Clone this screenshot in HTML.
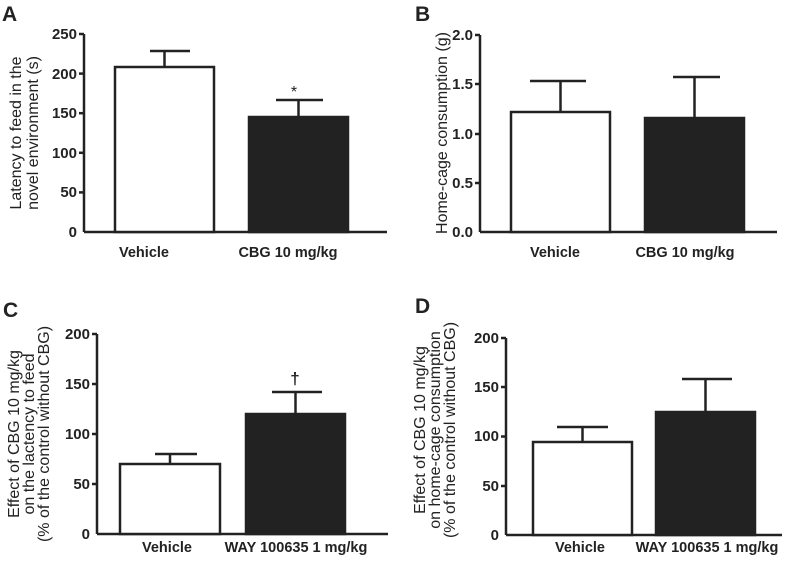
<!DOCTYPE html>
<html><head><meta charset="utf-8"><style>
body{margin:0;background:#fff}
svg{display:block}
text{font-family:"Liberation Sans",Arial,sans-serif;fill:#222}
.t{font-size:15px;font-weight:bold;text-anchor:end}
.x{font-size:14.5px;font-weight:bold;text-anchor:middle}
.y{font-size:16px;text-anchor:middle}
.L{font-size:21px;font-weight:bold}
line,rect{stroke:#222;stroke-width:2.5}
</style></head><body>
<svg width="789" height="562" viewBox="0 0 789 562">
<!-- A -->
<text class="L" x="2" y="21">A</text>
<g transform="translate(21,133) rotate(-90)"><text class="y" x="0" y="0">Latency to feed in the</text><text class="y" x="0" y="17">novel environment (s)</text></g>
<line x1="84" y1="34" x2="84" y2="232"/><line x1="84" y1="232" x2="387" y2="232"/>
<g>
<line x1="79" y1="34" x2="84" y2="34"/><line x1="79" y1="73.6" x2="84" y2="73.6"/><line x1="79" y1="113.2" x2="84" y2="113.2"/><line x1="79" y1="152.8" x2="84" y2="152.8"/><line x1="79" y1="192.4" x2="84" y2="192.4"/>
<text class="t" x="77" y="39">250</text><text class="t" x="77" y="79">200</text><text class="t" x="77" y="118">150</text><text class="t" x="77" y="158">100</text><text class="t" x="77" y="197">50</text><text class="t" x="77" y="237">0</text>
</g>
<line x1="164.5" y1="51" x2="164.5" y2="67"/><line x1="150" y1="51" x2="190" y2="51"/>
<rect x="115" y="67" width="99" height="165" fill="#fff"/>
<line x1="298.5" y1="100" x2="298.5" y2="117"/><line x1="276" y1="100" x2="323" y2="100"/>
<rect x="249" y="117" width="99" height="115" fill="#222"/>
<text x="294" y="97" style="font-size:16px;text-anchor:middle">*</text>
<text class="x" x="144" y="257">Vehicle</text><text class="x" x="288" y="257">CBG 10 mg/kg</text>
<!-- B -->
<text class="L" x="415" y="21">B</text>
<g transform="translate(447,133) rotate(-90)"><text class="y" x="0" y="0">Home-cage consumption (g)</text></g>
<line x1="480" y1="35" x2="480" y2="232"/><line x1="480" y1="232" x2="777" y2="232"/>
<line x1="475" y1="35" x2="480" y2="35"/><line x1="475" y1="84" x2="480" y2="84"/><line x1="475" y1="134" x2="480" y2="134"/><line x1="475" y1="183" x2="480" y2="183"/>
<text class="t" x="473" y="40">2.0</text><text class="t" x="473" y="89">1.5</text><text class="t" x="473" y="139">1.0</text><text class="t" x="473" y="188">0.5</text><text class="t" x="473" y="237">0.0</text>
<line x1="560.5" y1="81" x2="560.5" y2="112"/><line x1="530" y1="81" x2="586" y2="81"/>
<rect x="511" y="112" width="99" height="120" fill="#fff"/>
<line x1="694.5" y1="77" x2="694.5" y2="118"/><line x1="673" y1="77" x2="720" y2="77"/>
<rect x="645" y="118" width="99" height="114" fill="#222"/>
<text class="x" x="555" y="257">Vehicle</text><text class="x" x="685" y="257">CBG 10 mg/kg</text>
<!-- C -->
<text class="L" x="3" y="317">C</text>
<g transform="translate(19,434) rotate(-90)"><text class="y" x="0" y="0">Effect of CBG 10 mg/kg</text><text class="y" x="0" y="15">on the lactency to feed</text><text class="y" x="0" y="30">(% of  the control  without CBG)</text></g>
<line x1="97" y1="334" x2="97" y2="534"/><line x1="97" y1="534" x2="388" y2="534"/>
<line x1="92" y1="334" x2="97" y2="334"/><line x1="92" y1="384" x2="97" y2="384"/><line x1="92" y1="434" x2="97" y2="434"/><line x1="92" y1="484" x2="97" y2="484"/>
<text class="t" x="90" y="339">200</text><text class="t" x="90" y="389">150</text><text class="t" x="90" y="439">100</text><text class="t" x="90" y="489">50</text><text class="t" x="90" y="539">0</text>
<line x1="170" y1="454" x2="170" y2="464"/><line x1="155" y1="454" x2="197" y2="454"/>
<rect x="120" y="464" width="100" height="70" fill="#fff"/>
<line x1="295.5" y1="392" x2="295.5" y2="414"/><line x1="272" y1="392" x2="322" y2="392"/>
<rect x="246" y="414" width="99" height="120" fill="#222"/>
<text x="295" y="384" style="font-size:17px;font-weight:bold;text-anchor:middle">†</text>
<text class="x" x="167" y="552">Vehicle</text><text class="x" x="296" y="552">WAY 100635 1 mg/kg</text>
<!-- D -->
<text class="L" x="415" y="313">D</text>
<g transform="translate(425,430) rotate(-90)"><text class="y" x="0" y="0">Effect of CBG 10 mg/kg</text><text class="y" x="0" y="15">on home-cage consumption</text><text class="y" x="0" y="30">(% of the control without CBG)</text></g>
<line x1="506" y1="338" x2="506" y2="535"/><line x1="506" y1="535" x2="782" y2="535"/>
<line x1="501" y1="338" x2="506" y2="338"/><line x1="501" y1="387" x2="506" y2="387"/><line x1="501" y1="436.5" x2="506" y2="436.5"/><line x1="501" y1="486" x2="506" y2="486"/>
<text class="t" x="499" y="343">200</text><text class="t" x="499" y="392">150</text><text class="t" x="499" y="441">100</text><text class="t" x="499" y="491">50</text><text class="t" x="499" y="540">0</text>
<line x1="582.5" y1="427" x2="582.5" y2="442"/><line x1="557" y1="427" x2="608" y2="427"/>
<rect x="533" y="442" width="99" height="93" fill="#fff"/>
<line x1="705.5" y1="379" x2="705.5" y2="412"/><line x1="682" y1="379" x2="732" y2="379"/>
<rect x="656" y="412" width="99" height="123" fill="#222"/>
<text class="x" x="580" y="552">Vehicle</text><text class="x" x="707" y="552">WAY 100635 1 mg/kg</text>
</svg>
</body></html>
